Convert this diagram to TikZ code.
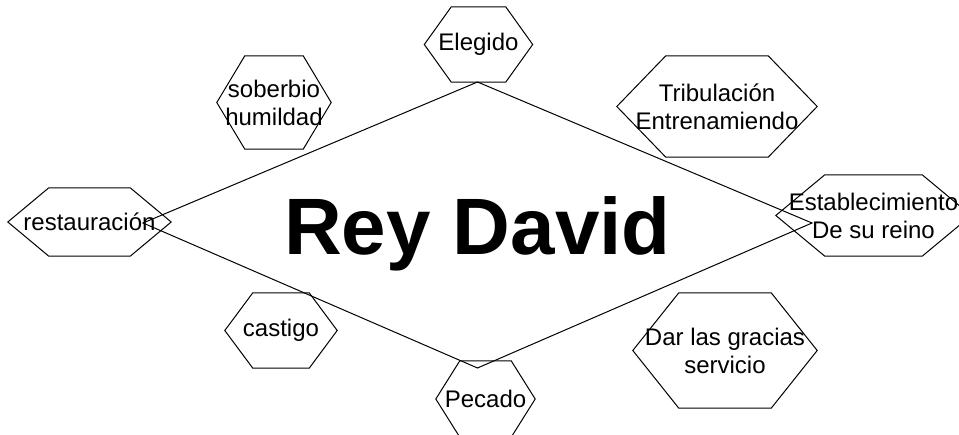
\documentclass[tikz,border=0pt]{standalone}
\usepackage{fontspec}
\setmainfont{Liberation Sans}
\tikzset{
  shapeline/.style={draw=black, line width=1pt, line join=miter},
  lbl/.style={inner sep=0pt, align=center, font=\fontsize{24}{28}\selectfont},
  bigtitle/.style={inner sep=0pt, font=\fontsize{80}{90}\selectfont\bfseries}
}
\newcommand{\hexnode}[7]{%
  \node[lbl, minimum width=#4pt, minimum height=#5pt] (#1) at (#2,#3) {#7};
  \draw[shapeline] (#1.west) -- ([xshift=#6pt]#1.north west) -- ([xshift=-#6pt]#1.north east) -- (#1.east) -- ([xshift=-#6pt]#1.south east) -- ([xshift=#6pt]#1.south west) -- cycle;
}
\begin{document}
\begin{tikzpicture}[x=1pt, y=-1pt]
\useasboundingbox (0,0) rectangle (959,435);
\clip (0,0) rectangle (959,435);
% central rhombus
\coordinate (reyN) at (477.5,82);
\coordinate (reyE) at (812,223);
\coordinate (reyS) at (477.5,368);
\coordinate (reyW) at (143,223);
\draw[shapeline] (reyN) -- (reyE) -- (reyS) -- (reyW) -- cycle;
\node[bigtitle, anchor=base] (reytext) at (477.5,255) {Rey David};
% hexagons
\hexnode{elegido}{478.5}{44.5}{108}{75}{27}{Elegido}
\hexnode{soberbio}{274}{102.5}{114}{93}{28}{soberbio\\humildad}
\hexnode{restauracion}{89.5}{222}{163}{68}{41}{restauración}
\hexnode{tribulacion}{717}{106.5}{200}{101}{49}{Tribulación\\Entrenamiendo}
\hexnode{establecimiento}{873.5}{215.5}{195}{81}{49}{Establecimiento\\De su reino}
\hexnode{castigo}{281}{330.5}{112}{75}{28}{castigo}
\hexnode{pecado}{485.5}{399}{99}{76}{24}{Pecado}
\hexnode{dar}{725}{350.5}{184}{115}{46}{Dar las gracias\\servicio}
\end{tikzpicture}
\end{document}
